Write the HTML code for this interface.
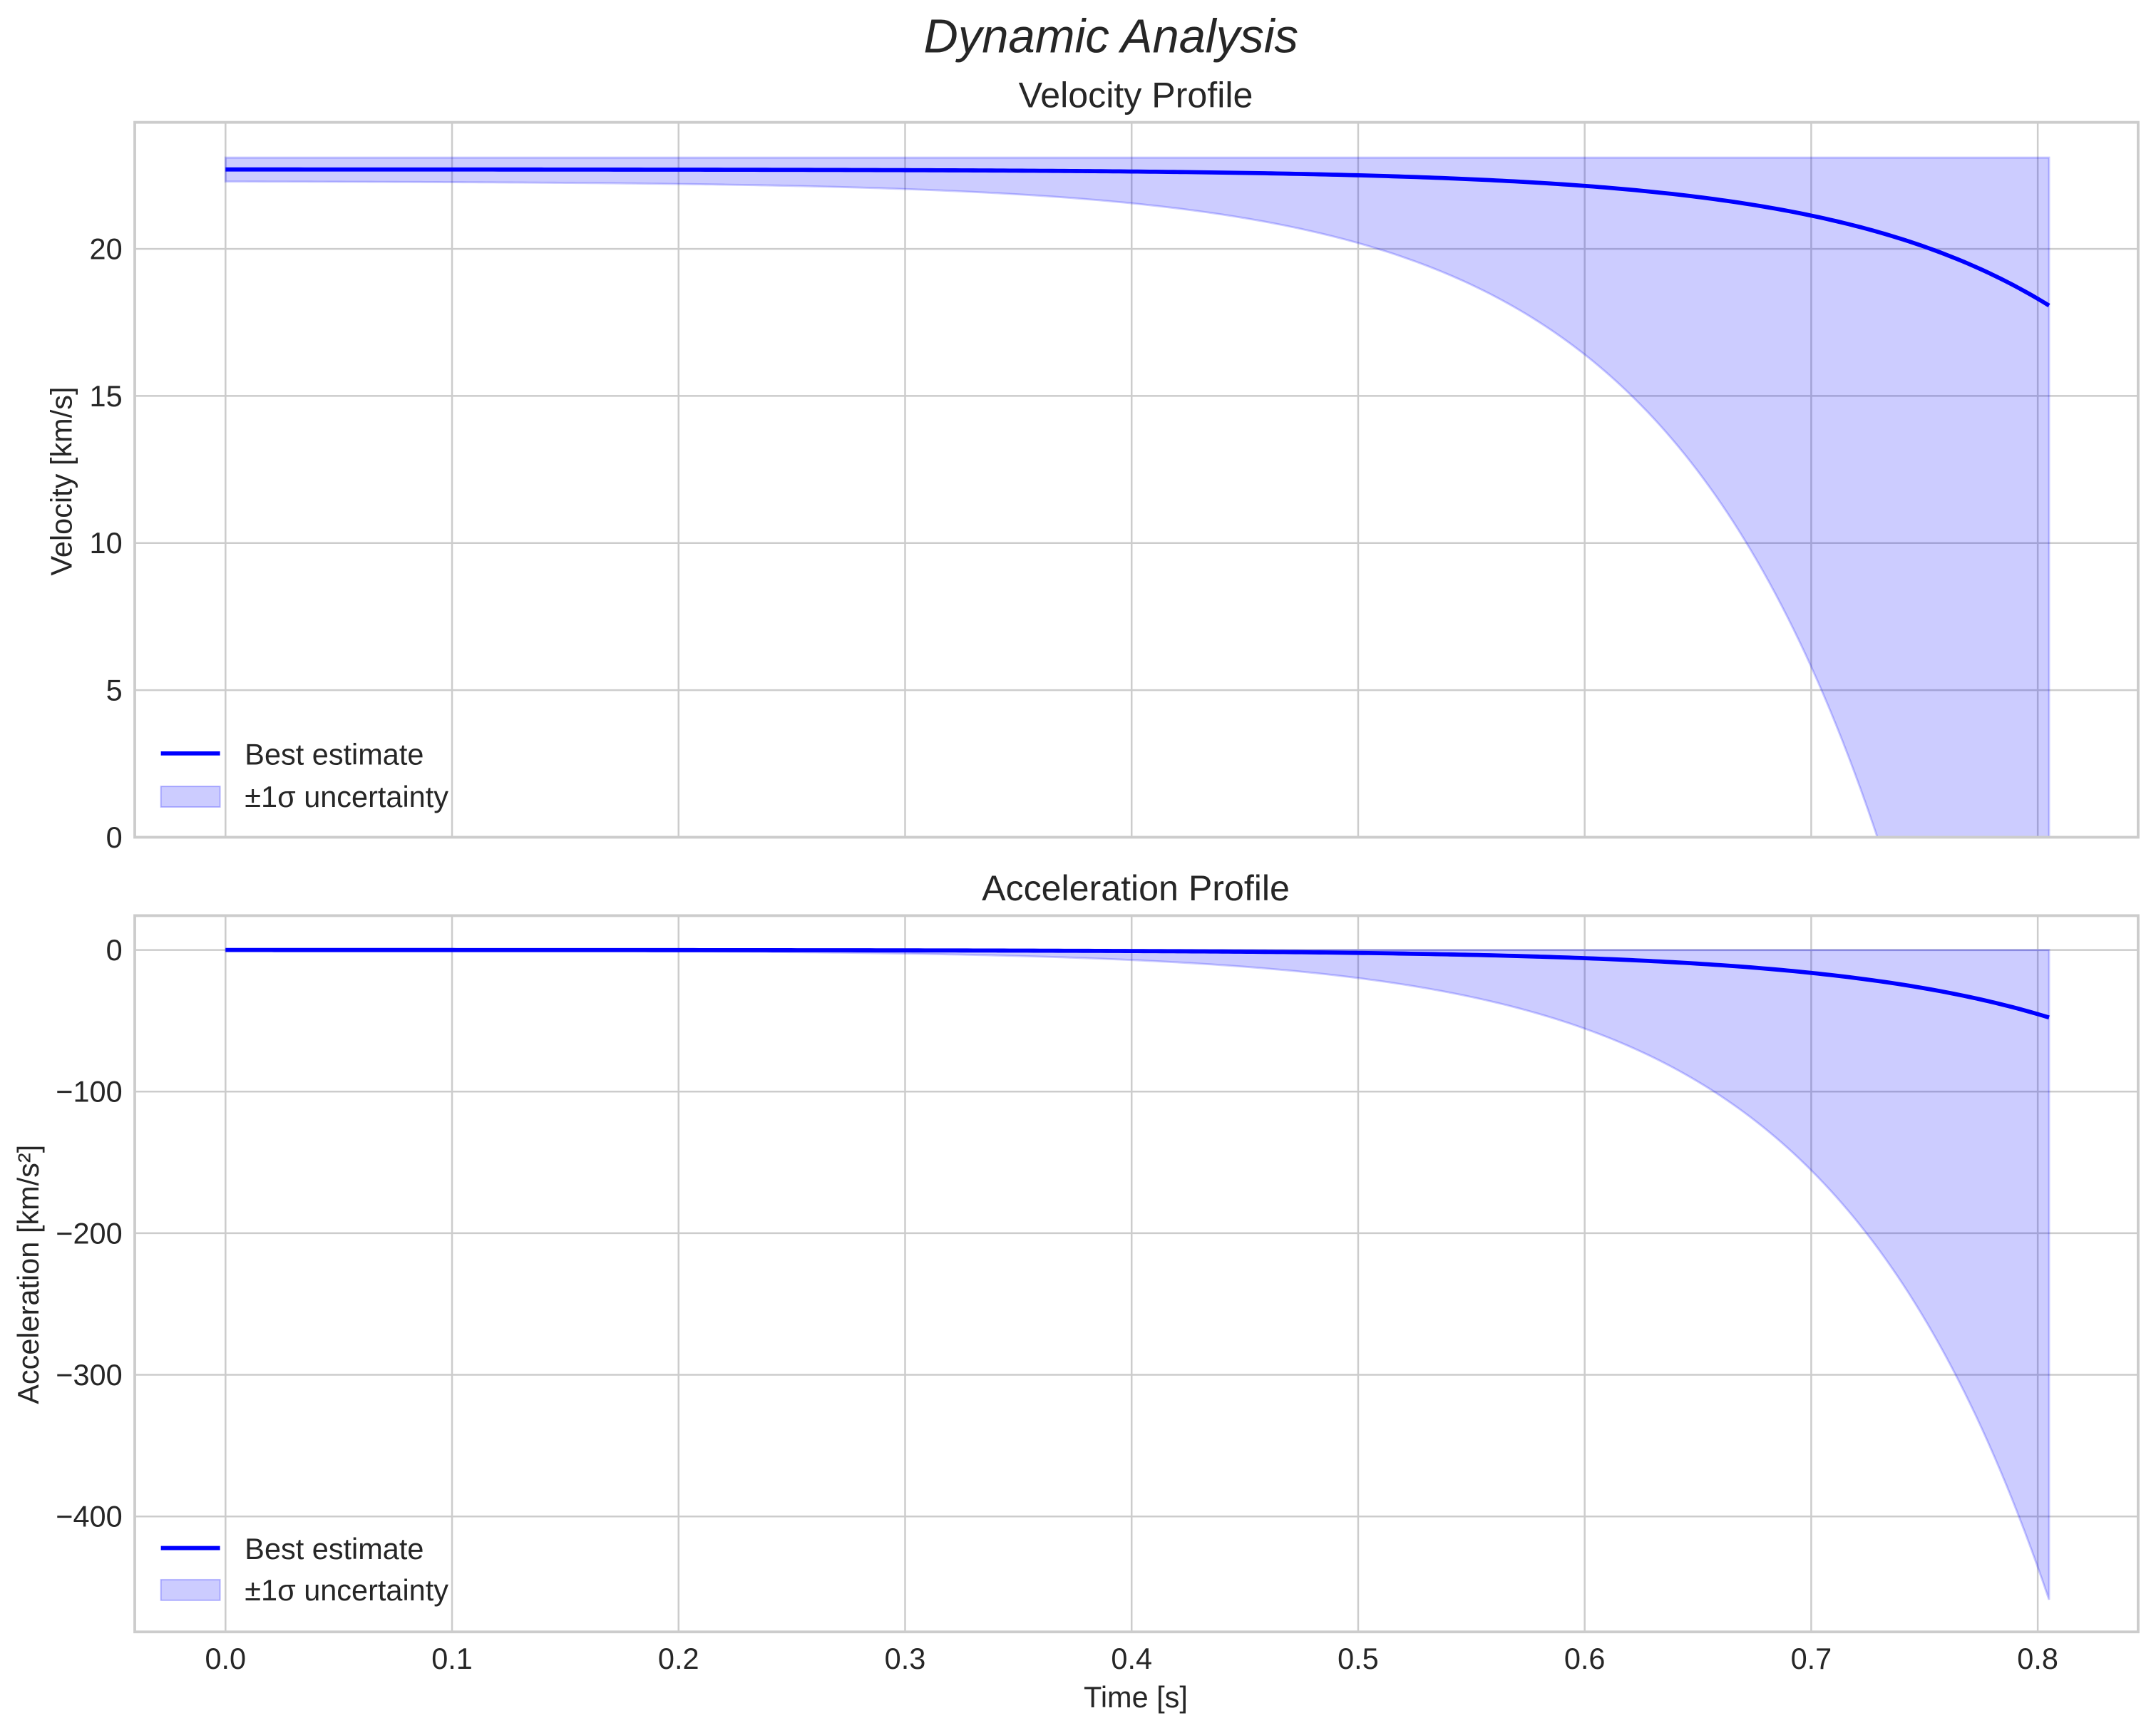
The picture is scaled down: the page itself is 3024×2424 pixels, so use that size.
<!DOCTYPE html>
<html><head><meta charset="utf-8"><style>
html,body{margin:0;padding:0;background:#fff;}
svg{display:block;}
text{font-family:"Liberation Sans",sans-serif;fill:#262626;}
</style></head><body>
<svg id="s" width="3024" height="2424" viewBox="0 0 1568 1256.9" xmlns="http://www.w3.org/2000/svg">
<defs>
<clipPath id="c1"><rect x="98" y="89" width="1457" height="520"/></clipPath>
<clipPath id="c2"><rect x="98" y="666" width="1457" height="521"/></clipPath>
</defs>
<rect width="1568" height="1257" fill="#fff"/>
<text x="808" y="38" font-size="34.7" font-style="italic" text-anchor="middle">Dynamic Analysis</text>
<text x="826" y="78" font-size="26" text-anchor="middle">Velocity Profile</text>
<text x="826" y="655" font-size="26" text-anchor="middle">Acceleration Profile</text>
<g id="grid" stroke="#cccccc" stroke-width="1.3" fill="none"></g>
<g id="fills"></g>
<rect x="98" y="89" width="1457" height="520" fill="none" stroke="#cccccc" stroke-width="2"/>
<rect x="98" y="666" width="1457" height="521" fill="none" stroke="#cccccc" stroke-width="2"/>
<g id="labels" font-size="21.5"></g>
<text x="826" y="1242" font-size="21.5" text-anchor="middle">Time [s]</text>
<text transform="translate(52,350) rotate(-90)" font-size="21.5" text-anchor="middle">Velocity [km/s]</text>
<text transform="translate(28,927) rotate(-90)" font-size="21.5" text-anchor="middle">Acceleration [km/s²]</text>
<g font-size="21.5">
<line x1="117" y1="548" x2="160" y2="548" stroke="#0000ff" stroke-width="3"/>
<rect x="117" y="572" width="43" height="15" fill="rgba(0,0,255,0.2)" stroke="rgba(0,0,255,0.25)"/>
<text x="178" y="556">Best estimate</text>
<text x="178" y="587">±1σ uncertainty</text>
<line x1="117" y1="1126" x2="160" y2="1126" stroke="#0000ff" stroke-width="3"/>
<rect x="117" y="1149" width="43" height="15" fill="rgba(0,0,255,0.2)" stroke="rgba(0,0,255,0.25)"/>
<text x="178" y="1134">Best estimate</text>
<text x="178" y="1164">±1σ uncertainty</text>
</g>
</svg>
<script>
var NS="http://www.w3.org/2000/svg";
function el(p,t,a,txt){var e=document.createElementNS(NS,t);for(var k in a)e.setAttribute(k,a[k]);if(txt!==undefined)e.textContent=txt;document.getElementById(p).appendChild(e);return e;}
function X(t){return 164+t*1647.5;}
function Y1(v){return 609-v*21.4;}
function Y2(a){return 691-a*1.03;}
for(var i=0;i<=8;i++){var x=X(i/10);
 el("grid","line",{x1:x,y1:89,x2:x,y2:609});el("grid","line",{x1:x,y1:666,x2:x,y2:1187});
 el("labels","text",{x:x,y:1214,"text-anchor":"middle"},(i/10).toFixed(1));}
[0,5,10,15,20].forEach(function(v){var y=Y1(v);el("grid","line",{x1:98,y1:y,x2:1555,y2:y});
 el("labels","text",{x:89,y:y+7.5,"text-anchor":"end"},String(v));});
[0,-100,-200,-300,-400].forEach(function(v){var y=Y2(v);el("grid","line",{x1:98,y1:y,x2:1555,y2:y});
 el("labels","text",{x:89,y:y+7.5,"text-anchor":"end"},v==0?"0":"\u2212"+(-v));});
var k=10.3,A=0.00116,B=0.0122,C=0.115,T=0.805,N=300;
var ptsLo1=[],ptsLo2=[],p1=[],p2=[];
for(var j=0;j<=N;j++){var t=T*j/N,e=Math.exp(k*t);
 p1.push(X(t).toFixed(2)+","+Y1(22.7-A*e).toFixed(2));
 ptsLo1.push(X(t).toFixed(2)+","+Y1(22.3-B*e).toFixed(2));
 p2.push(X(t).toFixed(2)+","+Y2(-A*k*e).toFixed(2));
 ptsLo2.push(X(t).toFixed(2)+","+Y2(-C*e).toFixed(2));}
var f1="M"+X(0)+","+Y1(23.1)+" L"+X(T)+","+Y1(23.1)+" L"+ptsLo1.slice().reverse().join(" L")+" Z";
var f2="M"+X(0)+","+Y2(0)+" L"+X(T)+","+Y2(0)+" L"+ptsLo2.slice().reverse().join(" L")+" Z";
el("fills","path",{d:f1,fill:"rgba(0,0,255,0.2)",stroke:"rgba(0,0,255,0.2)","stroke-width":1.5,"clip-path":"url(#c1)"});
el("fills","path",{d:f2,fill:"rgba(0,0,255,0.2)",stroke:"rgba(0,0,255,0.2)","stroke-width":1.5,"clip-path":"url(#c2)"});
el("fills","polyline",{points:p1.join(" "),fill:"none",stroke:"#0000ff","stroke-width":3,"clip-path":"url(#c1)"});
el("fills","polyline",{points:p2.join(" "),fill:"none",stroke:"#0000ff","stroke-width":3,"clip-path":"url(#c2)"});
</script>
</body></html>
